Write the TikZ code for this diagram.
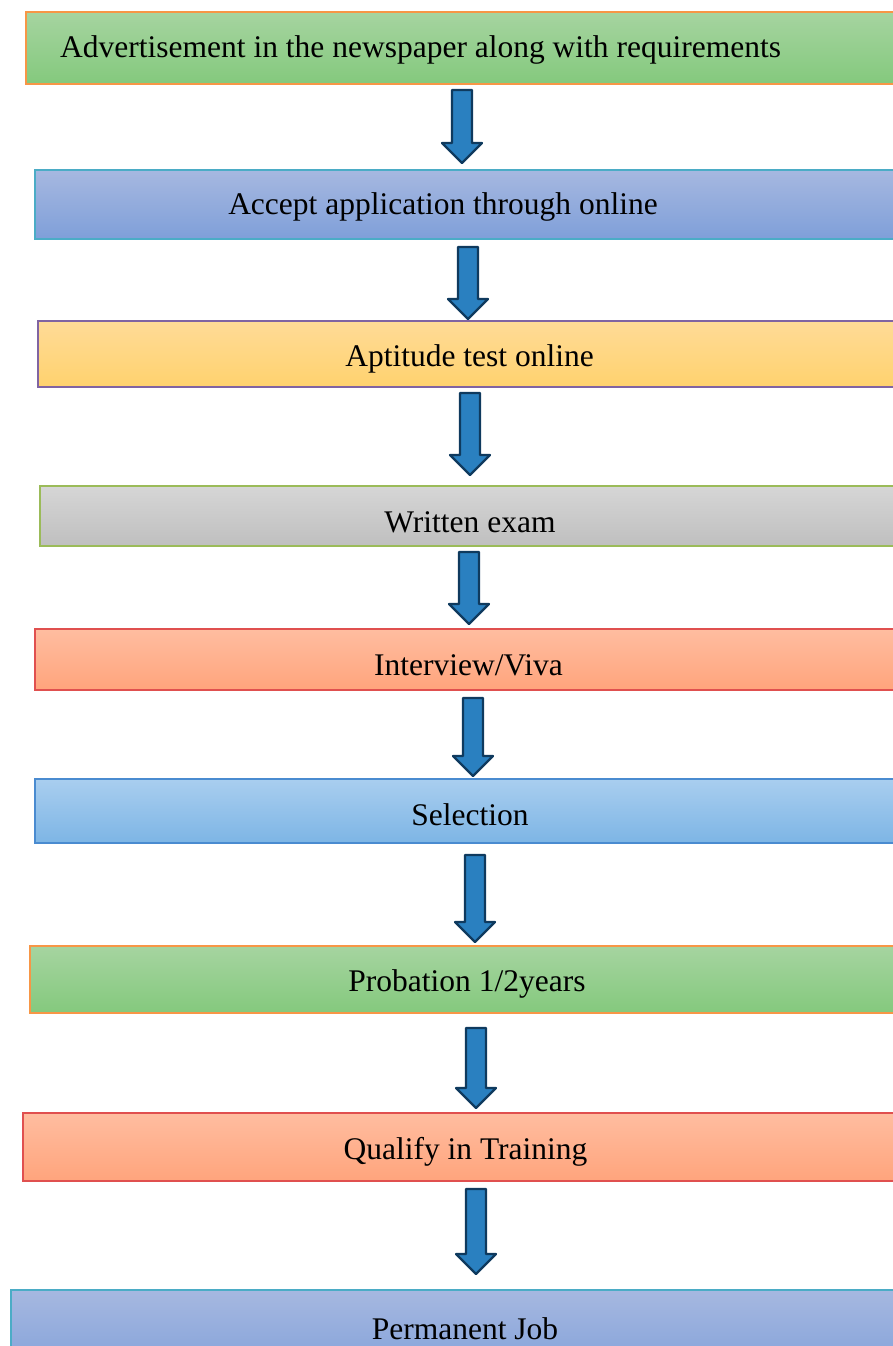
\documentclass[tikz,border=0pt]{standalone}
\usepackage{fontspec}
\setmainfont{Liberation Serif}
\usepackage{xcolor}
\usepackage{tikz}
\usetikzlibrary{calc}
\definecolor{GrnTop}{HTML}{A6D4A0}
\definecolor{GrnBot}{HTML}{84C97D}
\definecolor{PeriTop}{HTML}{A6B8E0}
\definecolor{PeriBot}{HTML}{7F9FD9}
\definecolor{YelTop}{HTML}{FFDB97}
\definecolor{YelBot}{HTML}{FFD26E}
\definecolor{GryTop}{HTML}{D6D6D6}
\definecolor{GryBot}{HTML}{BFBFBF}
\definecolor{SalTop}{HTML}{FFBDA0}
\definecolor{SalBot}{HTML}{FFA47C}
\definecolor{SkyTop}{HTML}{A9CEEF}
\definecolor{SkyBot}{HTML}{7DB5E5}
\definecolor{EdgeOrange}{HTML}{F79646}
\definecolor{EdgeCyan}{HTML}{4BACC6}
\definecolor{EdgePurple}{HTML}{8064A2}
\definecolor{EdgeGreen}{HTML}{9BBB59}
\definecolor{EdgeRed}{HTML}{E0504F}
\definecolor{EdgeBlue}{HTML}{4A8BD0}
\definecolor{ArrFill}{HTML}{2A80C0}
\definecolor{ArrEdge}{HTML}{0F3A5E}
\begin{document}
\begin{tikzpicture}[x=1pt,y=-1pt,
  every node/.style={font=\fontsize{31.5}{36}\selectfont},
  stepbox/.style={rectangle,line width=1.5pt,anchor=west,inner sep=0pt,minimum width=884pt},
  steptext/.style={inner sep=0pt,text=black},
  blockarr/.style={draw=ArrEdge,fill=ArrFill,line width=2.2pt,line join=round,
    to path={let \p1=(\tikztostart),\p2=(\tikztotarget) in
      (\x1-10,\y1) -- (\x1+10,\y1) -- (\x1+10,\y2+20) -- (\x1+20,\y2+20) -- (\x1,\y2) -- (\x1-20,\y2+20) -- (\x1-10,\y2+20) -- cycle}}]
\useasboundingbox (0,0) rectangle (893,1346);
\clip (0,0) rectangle (893,1346);
% steps
\node[stepbox,draw=EdgeOrange,top color=GrnTop,bottom color=GrnBot,minimum height=72pt] (b1) at (25,48) {};
\node[stepbox,draw=EdgeCyan,top color=PeriTop,bottom color=PeriBot,minimum height=69pt] (b2) at (34,204.5) {};
\node[stepbox,draw=EdgePurple,top color=YelTop,bottom color=YelBot,minimum height=66pt] (b3) at (37,354) {};
\node[stepbox,draw=EdgeGreen,top color=GryTop,bottom color=GryBot,minimum height=60pt] (b4) at (39,516) {};
\node[stepbox,draw=EdgeRed,top color=SalTop,bottom color=SalBot,minimum height=61pt] (b5) at (34,659.5) {};
\node[stepbox,draw=EdgeBlue,top color=SkyTop,bottom color=SkyBot,minimum height=64pt] (b6) at (34,811) {};
\node[stepbox,draw=EdgeOrange,top color=GrnTop,bottom color=GrnBot,minimum height=67pt] (b7) at (29,979.5) {};
\node[stepbox,draw=EdgeRed,top color=SalTop,bottom color=SalBot,minimum height=68pt] (b8) at (22,1147) {};
\node[stepbox,draw=EdgeCyan,top color=PeriTop,bottom color=PeriBot,minimum height=90pt] (b9) at (10,1335) {};
% labels
\node[steptext,anchor=west] (t1) at (60,50) {Advertisement in the newspaper along with requirements};
\node[steptext] (t2) at (443,207) {Accept application through online};
\node[steptext] (t3) at (469.5,359) {Aptitude test online};
\node[steptext] (t4) at (470,522) {Written exam};
\node[steptext] (t5) at (468.5,665) {Interview/Viva};
\node[steptext] (t6) at (470,815) {Selection};
\node[steptext] (t7) at (467,984) {Probation 1/2years};
\node[steptext] (t8) at (465.5,1152) {Qualify in Training};
\node[steptext] (t9) at (465,1329) {Permanent Job};
% arrow ends
\coordinate (a1s) at (462,90);   \coordinate (a1e) at (462,163);
\coordinate (a2s) at (468,247);  \coordinate (a2e) at (468,319);
\coordinate (a3s) at (470,393);  \coordinate (a3e) at (470,475);
\coordinate (a4s) at (469,552);  \coordinate (a4e) at (469,624);
\coordinate (a5s) at (473,698);  \coordinate (a5e) at (473,776);
\coordinate (a6s) at (475,855);  \coordinate (a6e) at (475,942);
\coordinate (a7s) at (476,1028); \coordinate (a7e) at (476,1108);
\coordinate (a8s) at (476,1189); \coordinate (a8e) at (476,1274);
\draw[blockarr] (a1s) to (a1e);
\draw[blockarr] (a2s) to (a2e);
\draw[blockarr] (a3s) to (a3e);
\draw[blockarr] (a4s) to (a4e);
\draw[blockarr] (a5s) to (a5e);
\draw[blockarr] (a6s) to (a6e);
\draw[blockarr] (a7s) to (a7e);
\draw[blockarr] (a8s) to (a8e);
\end{tikzpicture}
\end{document}
